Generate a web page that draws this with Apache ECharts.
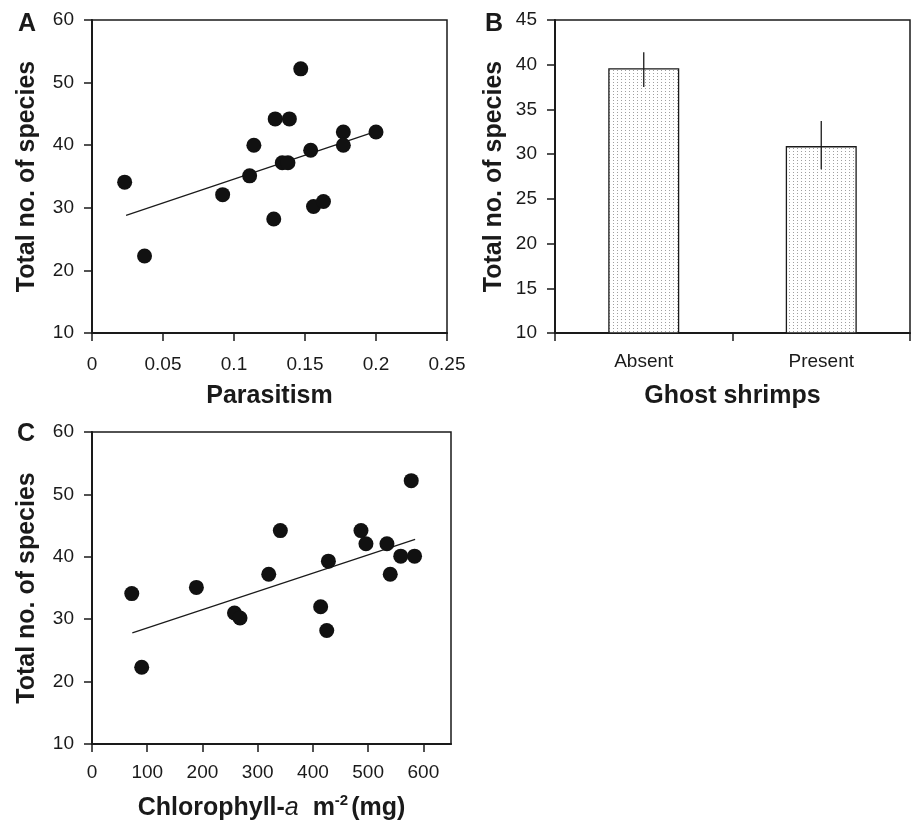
<!DOCTYPE html>
<html lang="en">
<head>
<meta charset="UTF-8">
<title>Species richness vs parasitism, ghost shrimps and chlorophyll</title>
<script src="https://cdn.jsdelivr.net/npm/echarts/dist/echarts.min.js"></script>
<style>
  body { margin: 0; background: #fff; }
  #chart { width: 912px; height: 820px; }
</style>
</head>
<body>
<div id="chart"></div>
<script>
  // panel A: parasitism vs total species
  const parasitism = [0.023, 0.037, 0.092, 0.111, 0.114, 0.129, 0.139, 0.128, 0.134, 0.138, 0.147, 0.154, 0.156, 0.163, 0.177, 0.177, 0.200];
  const speciesA   = [34.1, 22.3, 32.1, 35.1, 40.0, 44.2, 44.2, 28.2, 37.2, 37.2, 52.2, 39.2, 30.2, 31.0, 42.1, 40.0, 42.1];
  const fitAx = [0.024, 0.200];
  const fitAy = [28.8, 42.2];

  // panel B: ghost shrimps
  const shrimpCats = ['Absent', 'Present'];
  const shrimpMeans = [39.6, 30.9];
  const shrimpErrLow = [37.5, 28.3];
  const shrimpErrHigh = [41.4, 33.7];

  // panel C: chlorophyll-a vs total species
  const chlorophyll = [72, 90, 189, 258, 268, 320, 341, 414, 425, 428, 487, 496, 534, 540, 559, 584, 578];
  const speciesC    = [34.1, 22.3, 35.1, 31.0, 30.2, 37.2, 44.2, 32.0, 28.2, 39.3, 44.2, 42.1, 42.1, 37.2, 40.1, 40.1, 52.2];
  const fitCx = [73, 585];
  const fitCy = [27.8, 42.8];
  const chlTicks = [0, 100, 200, 300, 400, 500, 600];

  const FONT = "'Liberation Sans', Arial, Helvetica, sans-serif";
  const INK = '#1a1a1a';

  // dotted fill for the bars
  const dots = document.createElement('canvas');
  dots.width = 4;
  dots.height = 3;
  const dctx = dots.getContext('2d');
  dctx.fillStyle = '#ffffff';
  dctx.fillRect(0, 0, 4, 3);
  dctx.fillStyle = '#a0a0a0';
  dctx.fillRect(1, 1, 1, 1);

  const label = (margin) => ({ fontSize: 19, color: INK, fontFamily: FONT, margin: margin });

  const axisBase = (extra) => Object.assign({
    axisLine: { show: true, onZero: false, lineStyle: { color: INK, width: 2 } },
    axisTick: { show: true, length: 8, lineStyle: { color: INK, width: 1.5 } },
    splitLine: { show: false },
    axisLabel: label(18),
    nameLocation: 'middle',
    nameTextStyle: { fontSize: 25, fontWeight: 'bold', color: INK, fontFamily: FONT }
  }, extra);

  const gridBox = (left, top, width, height) => ({
    left, top, width, height, show: true, borderColor: INK, borderWidth: 1.5,
    containLabel: false, outerBoundsMode: 'none'
  });

  const chart = echarts.init(document.getElementById('chart'));

  chart.setOption({
    animation: false,
    backgroundColor: '#fff',
    grid: [
      gridBox(92, 20, 355, 313),
      gridBox(555, 20, 355, 313),
      gridBox(92, 432, 359, 312)
    ],
    graphic: [
      { type: 'text', style: { x: 27, y: 24, text: 'A', align: 'center', verticalAlign: 'middle', font: 'bold 25px ' + FONT, fill: INK } },
      { type: 'text', style: { x: 494, y: 24, text: 'B', align: 'center', verticalAlign: 'middle', font: 'bold 25px ' + FONT, fill: INK } },
      { type: 'text', style: { x: 26, y: 434, text: 'C', align: 'center', verticalAlign: 'middle', font: 'bold 25px ' + FONT, fill: INK } }
    ],
    xAxis: [
      axisBase({ gridIndex: 0, type: 'value', min: 0, max: 0.25, interval: 0.05, name: 'Parasitism', nameGap: 51, axisLabel: label(22) }),
      axisBase({ gridIndex: 1, type: 'category', data: shrimpCats, name: 'Ghost shrimps', nameGap: 51, axisLabel: label(19) }),
      axisBase({
        gridIndex: 2, type: 'value', min: 0, max: 650, interval: 100, nameGap: 49,
        axisTick: { show: true, length: 8, lineStyle: { color: INK, width: 1.5 }, customValues: chlTicks },
        axisLabel: Object.assign(label(19), { customValues: chlTicks }),
        name: '{b|Chlorophyll-}{i|a}{b|  m}{sup|-2}{b|(mg)}',
        nameTextStyle: {
          fontSize: 25, fontWeight: 'bold', color: INK, fontFamily: FONT,
          rich: {
            b: { fontSize: 25, fontWeight: 'bold', color: INK, fontFamily: FONT, verticalAlign: 'bottom' },
            i: { fontSize: 25, fontStyle: 'italic', fontWeight: 'normal', color: INK, fontFamily: FONT, verticalAlign: 'bottom' },
            sup: { fontSize: 15, fontWeight: 'bold', color: INK, fontFamily: FONT, verticalAlign: 'bottom', padding: [0, 3, 13, 0] }
          }
        }
      })
    ],
    yAxis: [
      axisBase({ gridIndex: 0, type: 'value', min: 10, max: 60, interval: 10, name: 'Total no. of species', nameGap: 52 }),
      axisBase({ gridIndex: 1, type: 'value', min: 10, max: 45, interval: 5, name: 'Total no. of species', nameGap: 48 }),
      axisBase({ gridIndex: 2, type: 'value', min: 10, max: 60, interval: 10, name: 'Total no. of species', nameGap: 52 })
    ],
    series: [
      {
        type: 'line', xAxisIndex: 0, yAxisIndex: 0, z: 1,
        data: fitAx.map((x, i) => [x, fitAy[i]]),
        symbol: 'none', lineStyle: { color: INK, width: 1.2 }
      },
      {
        type: 'scatter', xAxisIndex: 0, yAxisIndex: 0, z: 2,
        data: parasitism.map((x, i) => [x, speciesA[i]]),
        symbolSize: 15, itemStyle: { color: '#111', opacity: 1 }
      },
      {
        type: 'bar', xAxisIndex: 1, yAxisIndex: 1,
        data: shrimpMeans, barWidth: 71,
        itemStyle: { color: { image: dots, repeat: 'repeat' }, borderColor: INK, borderWidth: 1.3 }
      },
      {
        type: 'custom', xAxisIndex: 1, yAxisIndex: 1, z: 5,
        data: shrimpCats.map((c, i) => [i, shrimpErrLow[i], shrimpErrHigh[i]]),
        encode: { x: 0, y: [1, 2] },
        renderItem: (params, api) => {
          const lo = api.coord([api.value(0), api.value(1)]);
          const hi = api.coord([api.value(0), api.value(2)]);
          return {
            type: 'line',
            shape: { x1: lo[0], y1: lo[1], x2: hi[0], y2: hi[1] },
            style: { stroke: INK, lineWidth: 1.3 }
          };
        }
      },
      {
        type: 'line', xAxisIndex: 2, yAxisIndex: 2, z: 1,
        data: fitCx.map((x, i) => [x, fitCy[i]]),
        symbol: 'none', lineStyle: { color: INK, width: 1.2 }
      },
      {
        type: 'scatter', xAxisIndex: 2, yAxisIndex: 2, z: 2,
        data: chlorophyll.map((x, i) => [x, speciesC[i]]),
        symbolSize: 15, itemStyle: { color: '#111', opacity: 1 }
      }
    ]
  });
</script>
</body>
</html>
